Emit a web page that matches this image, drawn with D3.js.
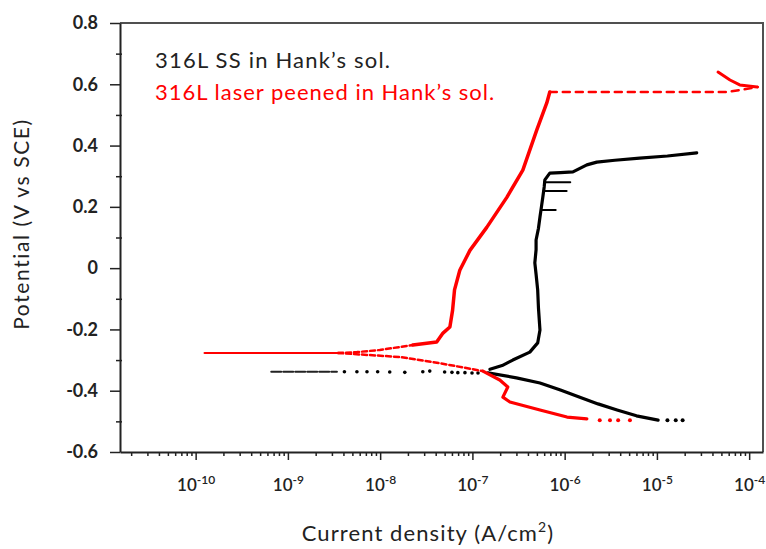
<!DOCTYPE html>
<html>
<head>
<meta charset="utf-8">
<script src="https://cdn.jsdelivr.net/npm/d3@7"></script>
<style>
  html, body { margin: 0; padding: 0; background: #fff; }
  svg { display: block; }
</style>
</head>
<body>
<svg id="chart" width="766" height="549"></svg>
<script>
// ---------------- DATA ----------------
// x: current density (A/cm^2), y: potential (V vs SCE)
const xMajorTicks = [1e-10, 1e-9, 1e-8, 1e-7, 1e-6, 1e-5, 1e-4];
const xTickExponents = ["-10", "-9", "-8", "-7", "-6", "-5", "-4"];
const yTicks = [-0.6, -0.4, -0.2, 0, 0.2, 0.4, 0.6, 0.8];
const yTickLabels = ["-0.6", "-0.4", "-0.2", "0", "0.2", "0.4", "0.6", "0.8"];
const legendLabels = ["316L SS in Hank\u2019s sol.", "316L laser peened  in Hank\u2019s sol."];
const xTitle = "Current density (A/cm";
const yTitle = "Potential (V vs SCE)";

// 316L SS (black)
const ssCathodic = [
  [1.03e-5, -0.496], [6.0e-6, -0.482], [3.7e-6, -0.463], [2.3e-6, -0.443],
  [1.46e-6, -0.421], [9.0e-7, -0.398], [5.4e-7, -0.375], [3.0e-7, -0.358],
  [1.47e-7, -0.342]
];
const ssCathodicTail = [[1.3e-5, -0.496], [1.6e-5, -0.496], [1.9e-5, -0.496]];
const ssSpikeDense = [[6.6e-10, -0.338], [3.4e-9, -0.338]];
const ssSpikeSparse = [
  [4.1e-9, -0.338], [5.6e-9, -0.338], [7.2e-9, -0.338], [9.4e-9, -0.338],
  [1.27e-8, -0.339], [1.85e-8, -0.340], [2.9e-8, -0.338], [3.45e-8, -0.336],
  [5.0e-8, -0.339], [6.0e-8, -0.340], [6.95e-8, -0.341], [8.3e-8, -0.341],
  [9.9e-8, -0.342], [1.15e-7, -0.342]
];
const ssAnodic = [
  [1.55e-7, -0.330], [2.1e-7, -0.318], [2.74e-7, -0.300], [4.19e-7, -0.274],
  [5.1e-7, -0.244], [5.4e-7, -0.202], [5.2e-7, -0.130], [5.1e-7, -0.071],
  [4.9e-7, -0.020], [4.75e-7, 0.017], [4.9e-7, 0.060], [4.9e-7, 0.092],
  [5.2e-7, 0.130], [5.4e-7, 0.167], [5.6e-7, 0.200], [5.8e-7, 0.232],
  [6.0e-7, 0.265], [6.1e-7, 0.288], [6.9e-7, 0.310], [9.0e-7, 0.312],
  [1.23e-6, 0.314], [1.74e-6, 0.337], [2.23e-6, 0.346], [3.5e-6, 0.352],
  [6.5e-6, 0.359], [1.3e-5, 0.366], [2.7e-5, 0.376]
];
const ssSpurs = [
  [[6.0e-7, 0.280], [1.15e-6, 0.280]],
  [[5.9e-7, 0.252], [1.05e-6, 0.252]],
  [[5.6e-7, 0.190], [8.0e-7, 0.190]]
];

// 316L laser peened (red)
const lpSpikeDense = [[1.25e-10, -0.277], [3.5e-9, -0.277]];
const lpAnodicFoot = [
  [3.5e-9, -0.277], [5.6e-9, -0.274], [9.9e-9, -0.267], [2.26e-8, -0.251]
];
const lpAnodic = [
  [2.26e-8, -0.251], [4.1e-8, -0.241], [4.8e-8, -0.212], [5.7e-8, -0.192],
  [6.1e-8, -0.137], [6.4e-8, -0.071], [7.3e-8, -0.007], [9.4e-8, 0.058],
  [1.43e-7, 0.133], [2.36e-7, 0.231], [3.52e-7, 0.320], [4.99e-7, 0.451],
  [6.4e-7, 0.539], [6.9e-7, 0.575]
];
const lpPlateau = [
  [6.9e-7, 0.575], [5.7e-5, 0.575], [7.9e-5, 0.581], [1.24e-4, 0.591]
];
const lpHook = [
  [4.6e-5, 0.640], [6.2e-5, 0.614], [7.9e-5, 0.598], [1.22e-4, 0.591]
];
const lpCathodicFoot = [
  [3.5e-9, -0.277], [1.63e-8, -0.290], [4.4e-8, -0.310], [1.30e-7, -0.336]
];
const lpCathodic = [
  [1.30e-7, -0.336], [1.98e-7, -0.365], [2.42e-7, -0.388], [2.14e-7, -0.421],
  [2.55e-7, -0.437], [5.4e-7, -0.463], [1.06e-6, -0.486], [1.74e-6, -0.492]
];
const lpCathodicTail = [[2.4e-6, -0.496], [3.1e-6, -0.496], [3.8e-6, -0.496], [5.1e-6, -0.496]];

// ---------------- DRAW ----------------
const svg = d3.select("#chart");
svg.append("rect").attr("width", 766).attr("height", 549).attr("fill", "#fff");

const mLeft = 120, mRight = 763, mTop = 23, mBottom = 452;
const x = d3.scaleLog().domain([Math.pow(10, -10.82), Math.pow(10, -3.85)]).range([mLeft, mRight]);
const y = d3.scaleLinear().domain([-0.6, 0.8]).range([mBottom, mTop]);

const FONT = "Lato, 'Open Sans', sans-serif";

// frame (top & right)
svg.append("path")
  .attr("d", `M${mLeft},${mTop}H${mRight}V${mBottom}`)
  .attr("fill", "none").attr("stroke", "#505050").attr("stroke-width", 2);

// minor x ticks
const minorX = [];
for (let e = -11; e <= -4; e++) for (let m = 2; m <= 9; m++) {
  const v = m * Math.pow(10, e);
  if (v > x.domain()[0] && v < x.domain()[1]) minorX.push(v);
}
svg.append("g").attr("transform", `translate(0,${mBottom})`)
  .call(d3.axisBottom(x).tickValues(minorX).tickSize(4).tickFormat(""))
  .call(g => g.select(".domain").remove())
  .selectAll("line").attr("stroke", "#222").attr("stroke-width", 1.5);

// major x axis
const gx = svg.append("g").attr("transform", `translate(0,${mBottom})`)
  .call(d3.axisBottom(x).tickValues(xMajorTicks).tickSize(8).tickSizeOuter(0).tickFormat(""));
gx.select(".domain").attr("stroke", "#222").attr("stroke-width", 2);
gx.selectAll(".tick line").attr("stroke", "#222").attr("stroke-width", 1.5);
gx.selectAll(".tick").each(function(d, i) {
  const t = d3.select(this).append("text")
    .attr("y", 39).attr("text-anchor", "middle")
    .attr("font-family", FONT).attr("font-size", 17).attr("font-weight", 600)
    .attr("fill", "#222");
  t.append("tspan").text("10");
  t.append("tspan").attr("dy", -7).attr("font-size", 12).text(xTickExponents[i]);
});

// y axis
const gy = svg.append("g").attr("transform", `translate(${mLeft},0)`)
  .call(d3.axisLeft(y).tickValues(yTicks).tickSize(10).tickSizeOuter(0)
    .tickFormat((d, i) => yTickLabels[i]));
gy.select(".domain").attr("stroke", "#222").attr("stroke-width", 2);
gy.selectAll(".tick line").attr("stroke", "#222").attr("stroke-width", 1.5);
gy.selectAll(".tick text").attr("x", -22)
  .attr("font-family", FONT).attr("font-size", 18).attr("font-weight", 700).attr("fill", "#222");
// minor y ticks
const minorY = yTicks.slice(0, -1).map(v => v + 0.1);
svg.append("g").attr("transform", `translate(${mLeft + 2},0)`)
  .call(d3.axisLeft(y).tickValues(minorY).tickSize(6).tickFormat(""))
  .call(g => g.select(".domain").remove())
  .selectAll("line").attr("stroke", "#222").attr("stroke-width", 1.5);

// axis titles
const xt = svg.append("text").attr("x", 428).attr("y", 541).attr("text-anchor", "middle")
  .attr("font-family", FONT).attr("font-size", 22).attr("letter-spacing", 1.1).attr("fill", "#222");
xt.append("tspan").text(xTitle);
xt.append("tspan").attr("dy", -9).attr("font-size", 14).text("2");
xt.append("tspan").attr("dy", 9).text(")");

svg.append("text")
  .attr("transform", "translate(29,224) rotate(-90)")
  .attr("text-anchor", "middle")
  .attr("font-family", FONT).attr("font-size", 21).attr("letter-spacing", 1.6).attr("fill", "#222")
  .text(yTitle);

// curves
const line = d3.line().x(d => x(d[0])).y(d => y(d[1]));
function drawLine(data, color, width, dash) {
  const p = svg.append("path").datum(data).attr("d", line)
    .attr("fill", "none").attr("stroke", color).attr("stroke-width", width)
    .attr("stroke-linejoin", "round").attr("stroke-linecap", "round");
  if (dash) p.attr("stroke-dasharray", dash);
}
function drawDots(data, color, r) {
  svg.append("g").selectAll("circle").data(data).join("circle")
    .attr("cx", d => x(d[0])).attr("cy", d => y(d[1])).attr("r", r).attr("fill", color);
}

const BLACK = "#000", RED = "#ff0000";

// black series
drawLine(ssSpikeDense, "#222", 2, "10,2");
drawDots(ssSpikeSparse, BLACK, 1.8);
drawLine(ssCathodic, BLACK, 3.2);
drawDots(ssCathodicTail, BLACK, 2);
drawLine(ssAnodic, BLACK, 3.2);
ssSpurs.forEach(s => drawLine(s, BLACK, 2));

// red series
drawLine(lpSpikeDense, RED, 2.2);
drawLine(lpAnodicFoot, RED, 2.5, "5,3");
drawLine(lpCathodicFoot, RED, 2.5, "5,3");
drawLine(lpAnodic, RED, 3.5);
drawLine(lpPlateau, RED, 2.5, "7,6");
drawLine(lpHook, RED, 3);
drawLine(lpCathodic, RED, 3.2);
drawDots(lpCathodicTail, RED, 2);

// legend
svg.append("text").attr("x", 155).attr("y", 68)
  .attr("font-family", FONT).attr("font-size", 22).attr("letter-spacing", 1.2).attr("fill", "#222")
  .text(legendLabels[0]);
svg.append("text").attr("x", 155).attr("y", 100)
  .attr("font-family", FONT).attr("font-size", 22).attr("letter-spacing", 1.0).attr("fill", RED)
  .text(legendLabels[1]);
</script>
</body>
</html>
